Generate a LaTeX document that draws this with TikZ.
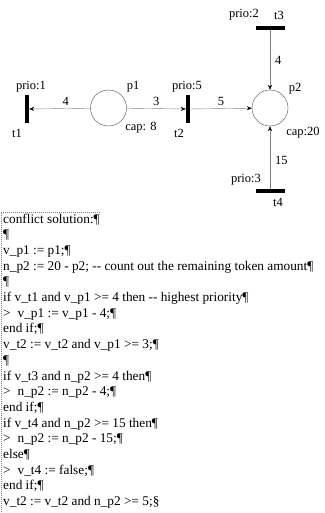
\documentclass[tikz,border=0pt]{standalone}
\usepackage{fontspec}
\setmainfont{Liberation Serif}
\usepackage{tikz}
\usetikzlibrary{arrows.meta,positioning}

\begin{document}
\begin{tikzpicture}[x=1pt,y=-1pt,>=stealth,
  place/.style={circle,draw=black!70,thin,minimum size=36pt,inner sep=0pt},
  vbar/.style={fill=black,inner sep=0pt,minimum width=4pt,minimum height=28pt},
  hbar/.style={fill=black,inner sep=0pt,minimum width=29pt,minimum height=4pt},
  arc/.style={draw=black!50,-{Stealth[length=5pt,width=4pt,color=black]}},
  lbl/.style={inner sep=0pt,font=\fontsize{12.5}{14}\selectfont}]
\useasboundingbox (0,0) rectangle (324,513);
% the net
\node[vbar] (t1) at (27,109) {};
\node[place] (p1) at (108.5,108) {};
\node[vbar] (t2) at (188,109) {};
\node[place] (p2) at (270,108) {};
\node[hbar] (t3) at (270,28) {};
\node[hbar] (t4) at (270,191) {};
\node[lbl] (prio1) at (31,87) {prio:1};
\node[lbl] (t1name) at (17,133) {t1};
\node[lbl] (p1name) at (133,87) {p1};
\node[lbl] (cap1) at (141,128) {cap: 8};
\node[lbl] (prio5) at (187,87) {prio:5};
\node[lbl] (t2name) at (179,133) {t2};
\node[lbl] (p2name) at (295,89) {p2};
\node[lbl] (cap2) at (303,133) {cap:20};
\node[lbl] (prio2) at (244,15) {prio:2};
\node[lbl] (t3name) at (279,15) {t3};
\node[lbl] (prio3) at (246,180) {prio:3};
\node[lbl] (t4name) at (278,202) {t4};
\draw[arc] (p1) -- node[lbl,pos=.4,above=3pt] (w1) {4} (t1);
\draw[arc] (p1) -- node[lbl,above=3pt] (w2) {3} (t2);
\draw[arc] (t2) -- node[lbl,above=3pt] (w3) {5} (p2);
\draw[arc] (t3) -- node[lbl,right=5pt] (w4) {4} (p2);
\draw[arc] (t4) -- node[lbl,pos=.45,right=5pt] (w5) {15} (p2);
% the text
\draw[black!50,dash pattern=on 1pt off 1pt] (100,212) -- (1,212) -- (1,513);
\node[anchor=north west,align=left,inner sep=0pt,
  font=\fontsize{13.3}{15.7}\selectfont] (code) at (3,213.5) {%
conflict solution:¶\\
¶\\
v\_p1 := p1;¶\\
n\_p2 := 20 - p2; -{}- count out the remaining token amount¶\\
¶\\
if v\_t1 and v\_p1 >= 4 then -{}- highest priority¶\\
>\hspace{7pt}v\_p1 := v\_p1 - 4;¶\\
end if;¶\\
v\_t2 := v\_t2 and v\_p1 >= 3;¶\\
¶\\
if v\_t3 and n\_p2 >= 4 then¶\\
>\hspace{7pt}n\_p2 := n\_p2 - 4;¶\\
end if;¶\\
if v\_t4 and n\_p2 >= 15 then¶\\
>\hspace{7pt}n\_p2 := n\_p2 - 15;¶\\
else¶\\
>\hspace{7pt}v\_t4 := false;¶\\
end if;¶\\
v\_t2 := v\_t2 and n\_p2 >= 5;§};
\end{tikzpicture}
\end{document}
